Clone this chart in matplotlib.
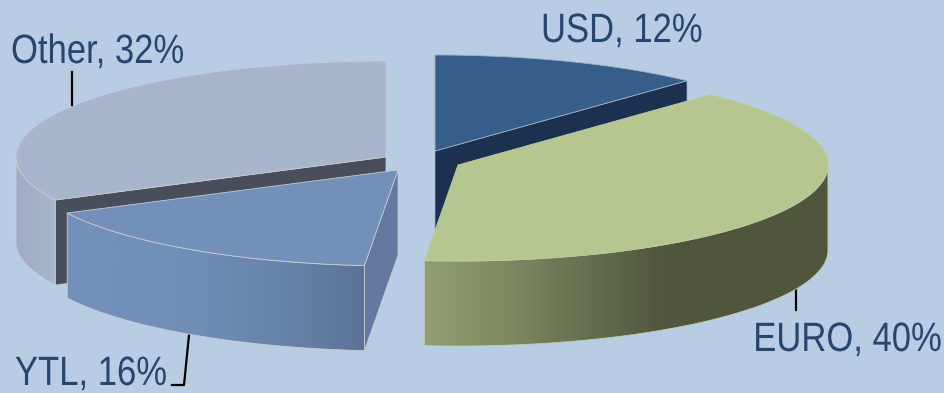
import numpy as np
import matplotlib
matplotlib.use('Agg')
import matplotlib.pyplot as plt
from matplotlib.colors import LinearSegmentedColormap
from matplotlib.patches import Polygon
from matplotlib.patheffects import AbstractPathEffect
from matplotlib.transforms import Affine2D

names = ['USD', 'EURO', 'YTL', 'Other']
shares = [12, 40, 16, 32]

top_colors = ['#375d8a', '#b5c690', '#7390bb', '#a9b5cd']
face_colors = ['#1c3150', '#4f563c', '#64799f', '#484f5b']
rim_colors = [
    ['#375d8a', '#375d8a'],
    ['#929e72', '#7f8a62', '#666f50', '#4f563c', '#4f563c', '#4f563c'],
    ['#7390bb', '#7190b9', '#6a86ae', '#5c7397'],
    ['#a0abc4', '#a9b5cd'],
]
edge_colors = ['#9fb0c6', '#bccba8', '#c9ccd0', '#c9ccd0']
# apex of each exploded wedge, in pixels
apex_x = [435, 458, 398, 386]
apex_y = [151, 165, 170, 157]
# which radial side faces the viewer: 0 start edge, 1 end edge, None hidden
side_edge = [1, None, 0, 0]

RX = 370.0
RY = 96.0
DEPTH = 85.0
TILT = 2.0
TEXT = '#27466e'
BG = '#b8cde4'


class Narrow(AbstractPathEffect):
    # squeeze glyphs horizontally around a fixed x, no narrow font around
    def __init__(self, pivot, factor=0.845):
        super().__init__()
        self.pivot = pivot
        self.factor = factor

    def draw_path(self, renderer, gc, tpath, affine, rgbFace=None):
        squeeze = Affine2D().translate(-self.pivot, 0).scale(self.factor, 1).translate(self.pivot, 0)
        renderer.draw_path(gc, tpath, affine + squeeze, rgbFace)


fig = plt.figure(figsize=(9.45, 3.93), dpi=100, facecolor=BG)
ax = fig.add_axes([0, 0, 1, 1])
ax.set_facecolor(BG)


def to_xy(i, deg):
    # clockwise from 12 o'clock, slightly warped for the camera tilt
    deg = np.asarray(deg, dtype=float)
    t = np.radians(deg - TILT * np.sin(np.radians(deg / 2.0)) ** 2)
    return apex_x[i] + RX * np.sin(t), apex_y[i] - RY * np.cos(t)


def draw_wedge(i, a0, a1, layer):
    arc = np.linspace(a0, a1, 160)
    x, y = to_xy(i, arc)
    base = 2 + layer * 3
    edge = edge_colors[i]

    # radial side wall
    if side_edge[i] is not None:
        ex, ey = to_xy(i, [a0, a1][side_edge[i]])
        wall = [(apex_x[i], apex_y[i]), (ex, ey), (ex, ey + DEPTH), (apex_x[i], apex_y[i] + DEPTH)]
        ax.add_patch(Polygon(wall, closed=True, facecolor=face_colors[i], edgecolor=edge, lw=0.5, zorder=base))

    # outer rim, only the front half of the ellipse shows
    lo = max(a0, 90)
    hi = min(a1, 270)
    if hi > lo:
        rim = np.linspace(lo, hi, 160)
        rx, ry = to_xy(i, rim)
        pts = np.concatenate([np.column_stack([rx, ry]), np.column_stack([rx, ry + DEPTH])[::-1]])
        patch = Polygon(pts, closed=True, facecolor='none', edgecolor=edge, lw=0.6, zorder=base + 1.5)
        ax.add_patch(patch)
        cmap = LinearSegmentedColormap.from_list('rim%d' % i, rim_colors[i])
        im = ax.imshow(np.linspace(0, 1, 256).reshape(1, -1), cmap=cmap, aspect='auto',
                       extent=[pts[:, 0].min(), pts[:, 0].max(), pts[:, 1].max(), pts[:, 1].min()],
                       zorder=base + 1)
        im.set_clip_path(patch)

    # top surface
    top = np.concatenate([[[apex_x[i], apex_y[i]]], np.column_stack([x, y])])
    ax.add_patch(Polygon(top, closed=True, facecolor=top_colors[i], edgecolor=edge, lw=0.6, zorder=base + 2))


ends = np.cumsum(shares) * 3.6
starts = np.concatenate([[0], ends[:-1]])

# back wedges go first so the front ones cover them
order = [0, 3, 2, 1]
for layer, i in enumerate(order):
    draw_wedge(i, starts[i], ends[i], layer)

# leader lines
ax.plot([72, 72], [72, 105], color='black', lw=1.6, zorder=30)
ax.plot([189, 184, 172], [335, 385, 385], color='black', lw=1.6, zorder=1)
ax.plot([796, 796], [290, 310], color='black', lw=1.6, zorder=1)


def label(i, x, y, ha='left'):
    t = ax.text(x, y, '%s, %d%%' % (names[i], shares[i]), color=TEXT, fontsize=29.5,
                family='Liberation Sans', ha=ha, zorder=31)
    t.set_path_effects([Narrow(x)])


label(3, 11, 63)
label(0, 541, 42)
label(1, 942, 351, ha='right')
label(2, 15, 385)

ax.set_xlim(0, 945)
ax.set_ylim(393, 0)
ax.axis('off')
fig.savefig('out.png', dpi=100, facecolor=BG)
